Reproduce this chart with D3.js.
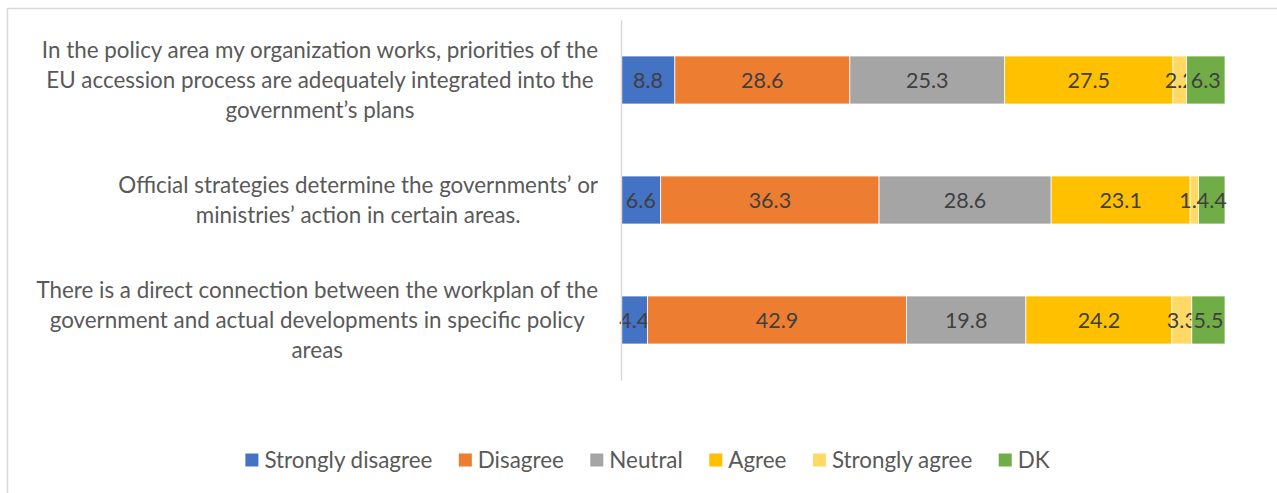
<!DOCTYPE html>
<html>
<head>
<meta charset="utf-8">
<script src="https://cdn.jsdelivr.net/npm/d3@7"></script>
<style>
  html, body { margin: 0; padding: 0; background: #fff; }
  svg { display: block; font-family: Lato, "Open Sans", sans-serif; }
</style>
</head>
<body>
<svg id="chart" width="1277" height="493"></svg>
<script>
// Survey statements (one bar each) and their wrapped label lines
const categories = [
  "In the policy area my organization works, priorities of the EU accession process are adequately integrated into the government’s plans",
  "Official strategies determine the governments’ or ministries’ action in certain areas.",
  "There is a direct connection between the workplan of the government and actual developments in specific policy areas"
];
const categoryLines = [
  ["In the policy area my organization works, priorities of the", "EU accession process are adequately integrated into the", "government’s plans"],
  ["Official strategies determine the governments’ or", "ministries’ action in certain areas."],
  ["There is a direct connection between the workplan of the", "government and actual developments in specific policy", "areas"]
];

// Answer categories, in stacking order
const responses = ["Strongly disagree", "Disagree", "Neutral", "Agree", "Strongly agree", "DK"];

// Percent of respondents per answer, one value per statement
const stronglyDisagree = [8.8, 6.6, 4.4];
const disagree         = [28.6, 36.3, 42.9];
const neutral          = [25.3, 28.6, 19.8];
const agree            = [27.5, 23.1, 24.2];
const stronglyAgree    = [2.2, 1.4, 3.3];
const dk               = [6.3, 4.4, 5.5];

const colors = ["#4472C4", "#ED7D31", "#A5A5A5", "#FFC000", "#FFD966", "#70AD47"];

const seriesValues = [stronglyDisagree, disagree, neutral, agree, stronglyAgree, dk];
const rows = categories.map((c, i) => {
  const r = { category: c, index: i };
  responses.forEach((k, j) => { r[k] = seriesValues[j][i]; });
  return r;
});

const labelSize = 22.4;
const valueSize = 21.5;

const svg = d3.select("#chart");

// Outer chart frame
svg.append("rect")
  .attr("x", 7.5).attr("y", 8.5)
  .attr("width", 1300).attr("height", 500)
  .attr("fill", "none")
  .attr("stroke", "#d9d9d9")
  .attr("stroke-width", 1.5);

const plotLeft = 621, plotRight = 1225, plotTop = 20, plotBottom = 380;

const x = d3.scaleLinear().domain([0, 1]).range([plotLeft, plotRight]);
const y = d3.scaleBand().domain(categories).range([plotTop, plotBottom])
  .paddingInner(0.6).paddingOuter(0.3);
const color = d3.scaleOrdinal().domain(responses).range(colors);

// 100% stacked layout
const stacked = d3.stack().keys(responses).offset(d3.stackOffsetExpand)(rows);

const layers = svg.append("g").selectAll("g")
  .data(stacked)
  .join("g")
  .attr("fill", d => color(d.key));

layers.selectAll("rect")
  .data(d => d.map(p => Object.assign(p, { key: d.key })))
  .join("rect")
  .attr("x", d => x(d[0]))
  .attr("y", d => y(d.data.category))
  .attr("width", d => x(d[1]) - x(d[0]))
  .attr("height", y.bandwidth())
  .attr("stroke", "#fff")
  .attr("stroke-width", 0.75);

// Value labels centred in each segment
const fmt = d3.format(".1f");
layers.selectAll("text")
  .data(d => d)
  .join("text")
  .attr("x", d => (x(d[0]) + x(d[1])) / 2)
  .attr("y", d => y(d.data.category) + y.bandwidth() / 2)
  .attr("dy", "0.35em")
  .attr("text-anchor", "middle")
  .attr("fill", "#404040")
  .attr("font-size", valueSize)
  .text(d => fmt(d.data[d.key]));

// Vertical category axis
const axis = svg.append("g")
  .attr("transform", `translate(${plotLeft},0)`)
  .call(d3.axisLeft(y).tickSize(0).tickSizeOuter(0).tickPadding(23).tickFormat(""));
axis.select(".domain").attr("stroke", "#d9d9d9").attr("stroke-width", 1.5);

// Multi-line category labels: lines centred within a block right-aligned to the axis
const lineH = 30;
axis.selectAll(".tick text").each(function (c) {
  const t = d3.select(this);
  const lines = categoryLines[categories.indexOf(c)];
  t.text(null)
    .attr("fill", "#595959")
    .attr("font-size", labelSize)
    .attr("font-family", "Lato, 'Open Sans', sans-serif");
  const spans = lines.map((ln, i) =>
    t.append("tspan")
      .attr("y", (i - (lines.length - 1) / 2) * lineH)
      .attr("dy", "0.35em")
      .text(ln));
  const w = d3.max(spans, s => s.node().getComputedTextLength());
  t.attr("text-anchor", "middle");
  spans.forEach(s => s.attr("x", -23 - w / 2));
});

// Legend
const legendGap = 26.5;
const legend = svg.append("g");
let lx = 0;
responses.forEach(k => {
  const g = legend.append("g").attr("transform", `translate(${lx},0)`);
  g.append("rect").attr("x", 0).attr("y", -6.5).attr("width", 13).attr("height", 13).attr("fill", color(k));
  const txt = g.append("text").attr("x", 19).attr("dy", "0.35em")
    .attr("fill", "#595959").attr("font-size", labelSize).text(k);
  lx += 19 + txt.node().getComputedTextLength() + legendGap;
});
const legendW = lx - legendGap;
legend.attr("transform", `translate(${647.5 - legendW / 2},460)`);
</script>
</body>
</html>
